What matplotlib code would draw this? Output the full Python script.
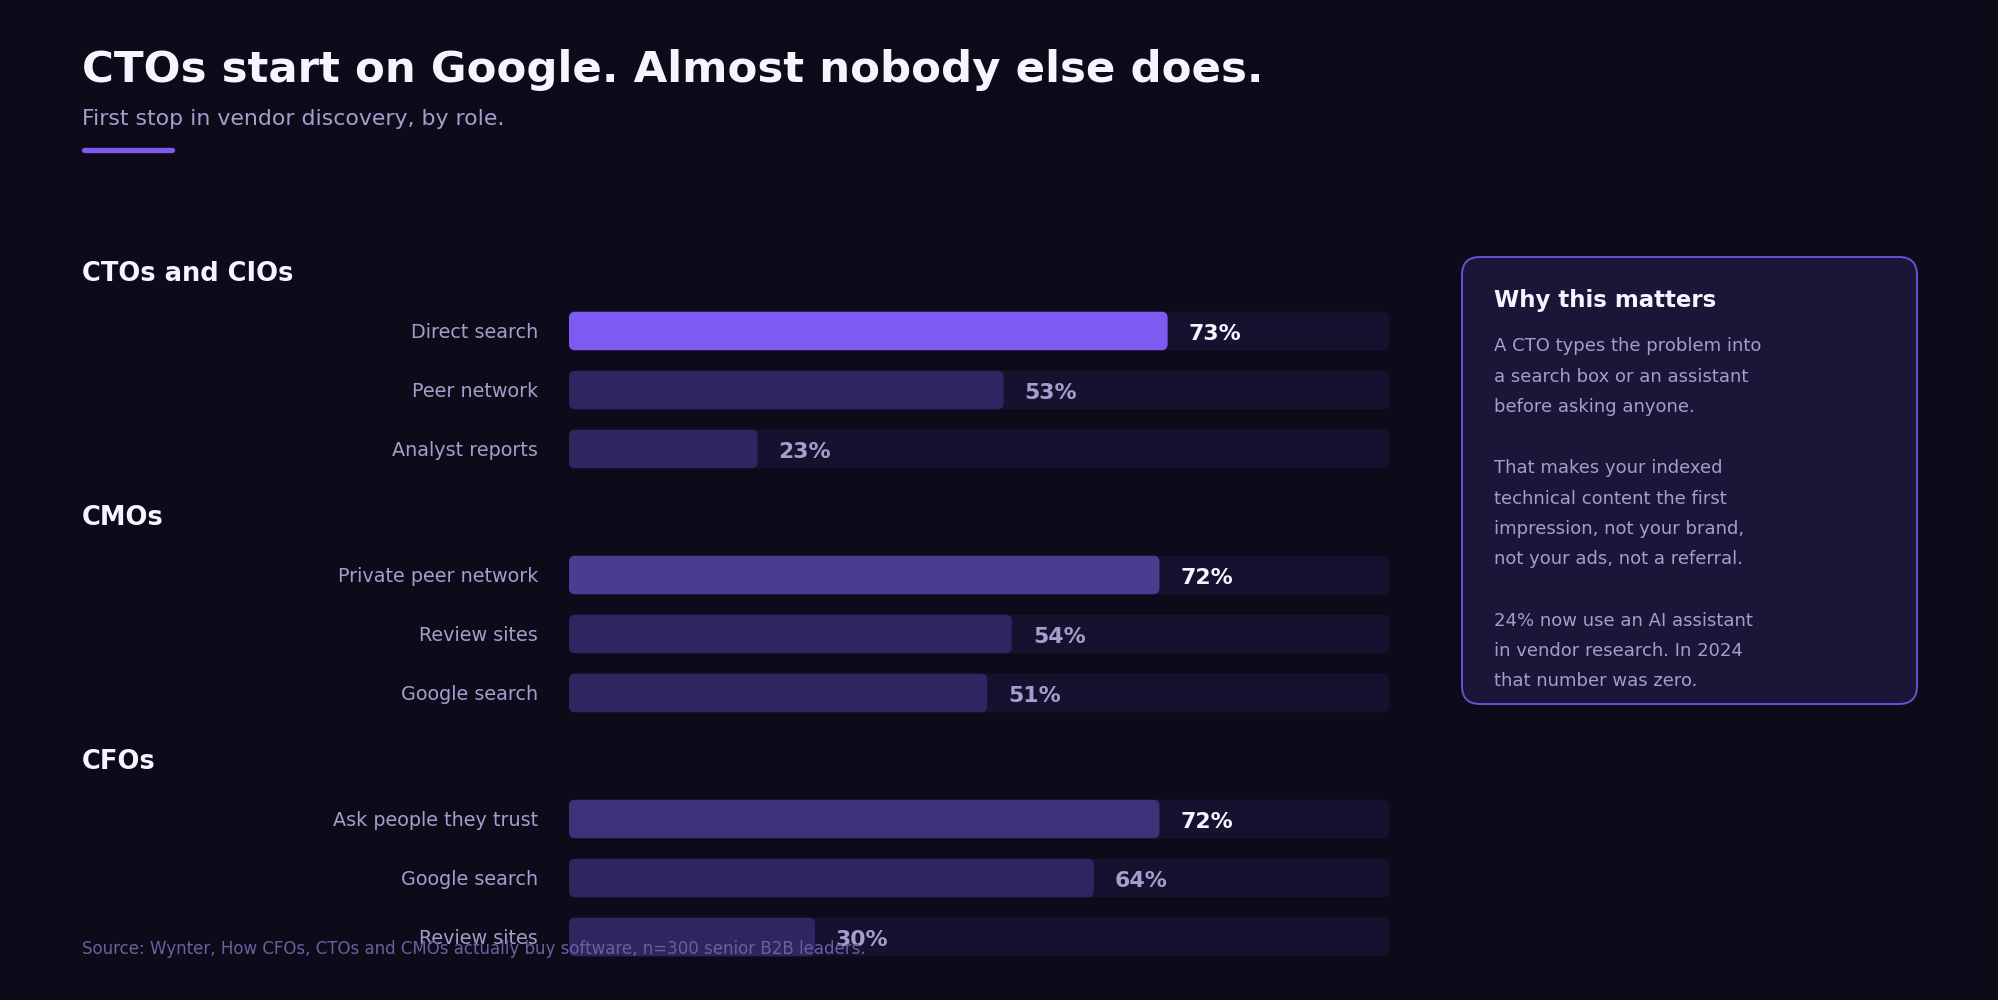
import matplotlib
matplotlib.use("Agg")
import matplotlib.pyplot as plt
from matplotlib.patches import FancyBboxPatch
from matplotlib.transforms import blended_transform_factory

# data
groups = ["CTOs and CIOs", "CMOs", "CFOs"]
labels = [
    ["Direct search", "Peer network", "Analyst reports"],
    ["Private peer network", "Review sites", "Google search"],
    ["Ask people they trust", "Google search", "Review sites"],
]
values = [
    [73, 53, 23],
    [72, 54, 51],
    [72, 64, 30],
]
top_colors = ["#7f5af0", "#4b3c92", "#3d3279"]

title = "CTOs start on Google. Almost nobody else does."
subtitle = "First stop in vendor discovery, by role."
source = "Source: Wynter, How CFOs, CTOs and CMOs actually buy software, n=300 senior B2B leaders."
note_title = "Why this matters"
note_lines = [
    "A CTO types the problem into",
    "a search box or an assistant",
    "before asking anyone.",
    "",
    "That makes your indexed",
    "technical content the first",
    "impression, not your brand,",
    "not your ads, not a referral.",
    "",
    "24% now use an AI assistant",
    "in vendor research. In 2024",
    "that number was zero.",
]

BG = "#0d0b1a"
TRACK = "#17112f"
BAR = "#2e2561"
MUTED = "#a59dcb"
WHITE = "#f6f4ff"

W, H = 1999, 1000
fig = plt.figure(figsize=(W / 100, H / 100), dpi=100, facecolor=BG)

# pixel overlay for header, panel
deco = fig.add_axes([0, 0, 1, 1])
deco.set_xlim(0, W)
deco.set_ylim(H, 0)
deco.axis("off")
deco.set_facecolor(BG)

deco.text(82, 82, title, color=WHITE, fontsize=31.3, fontweight="bold", va="baseline")
deco.text(82, 125, subtitle, color=MUTED, fontsize=15.8, va="baseline")
deco.plot([84, 172], [150, 150], color="#7f5af0", lw=3.8, solid_capstyle="round")

# side note panel
deco.add_patch(FancyBboxPatch((1462, 257), 455, 447,
                              boxstyle="round,pad=0,rounding_size=18",
                              fc="#1b1538", ec="#6b4fd8", lw=1.4))
deco.text(1494, 307, note_title, color=WHITE, fontsize=16.5, fontweight="bold", va="baseline")
for i, line in enumerate(note_lines):
    deco.text(1494, 351 + i * 30.5, line, color=MUTED, fontsize=13, va="baseline")

# bars: x in percent, y in rows (59 px each)
row_px = 59.0
ax = fig.add_axes([569 / W, 0, 820 / W, 1])
ax.set_xlim(0, 100)
ax.set_ylim((H - 331) / row_px, -331 / row_px)
ax.axis("off")
ax.patch.set_alpha(0)

bh = 38.5 / row_px
px_x = 820 / 100.0
aspect = px_x / row_px
head_tf = blended_transform_factory(fig.transFigure, ax.transData)

y0 = 0.0
for g, name in enumerate(groups):
    ax.text(82 / W, y0 - 0.84, name, transform=head_tf, color=WHITE,
            fontsize=18.5, fontweight="bold", va="baseline")
    for r, (lab, val) in enumerate(zip(labels[g], values[g])):
        y = y0 + r
        ax.add_patch(FancyBboxPatch((0, y - bh / 2), 100, bh,
                                    boxstyle="round,pad=0,rounding_size=%f" % (6 / px_x),
                                    mutation_aspect=aspect, fc=TRACK, ec="none"))
        col = top_colors[g] if r == 0 else BAR
        ax.add_patch(FancyBboxPatch((0, y - bh / 2), val, bh,
                                    boxstyle="round,pad=0,rounding_size=%f" % (6 / px_x),
                                    mutation_aspect=aspect, fc=col, ec="none"))
        ax.text(-31 / px_x, y + 0.12, lab, color=MUTED, fontsize=13.8,
                ha="right", va="baseline", clip_on=False)
        ax.text(val + 21 / px_x, y + 0.155, f"{val}%", color=WHITE if r == 0 else MUTED,
                fontsize=15.8, fontweight="bold", va="baseline", clip_on=False)
    y0 += len(labels[g]) + 244 / row_px - 3

# footer sits on top of the bars, as in the original
fig.text(82 / W, 1 - 954 / H, source, color="#6c5f9e", fontsize=12,
         va="baseline", zorder=10)

fig.savefig("out.png", dpi=100, facecolor=BG)
